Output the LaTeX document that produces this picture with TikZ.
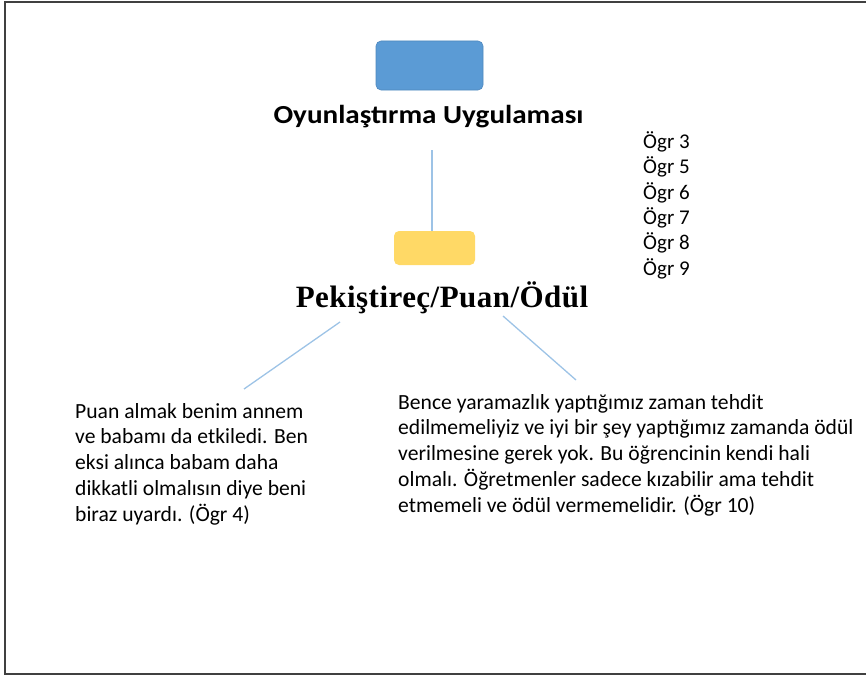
\documentclass[tikz,border=0pt]{standalone}
\usepackage{fontspec}
\setmainfont{Carlito}
\newfontfamily\headserif[LetterSpace=1.5]{Liberation Serif}
\definecolor{boxblue}{HTML}{5B9BD5}
\definecolor{boxblueedge}{HTML}{4F88BE}
\definecolor{boxyellow}{HTML}{FFD966}
\definecolor{linkblue}{HTML}{9DC3E6}
\definecolor{framegray}{HTML}{404040}
\tikzset{
  x=1pt, y=-1pt,
  shapebox/.style={rounded corners=5pt, inner sep=0pt, minimum width=#1},
  link/.style={draw=linkblue, line width=1.3pt},
  body/.style={font=\fontsize{21.6}{25.7}\selectfont, align=left, anchor=north west, inner sep=0pt, text=black},
}
\begin{document}
\begin{tikzpicture}
\useasboundingbox (0,0) rectangle (866,677);
% outer frame (open on the right)
\draw[framegray, line width=2pt] (870,2) -- (5,2) -- (5,674) -- (870,674);

% top level: the game application
\node[shapebox=107pt, minimum height=49pt, fill=boxblue, draw=boxblueedge, line width=0.6pt] (game) at (429.5,65.5) {};
\node[inner sep=0pt, font=\bfseries\fontsize{26}{30}\selectfont] (gametitle) at (428.5,117)
  {\scalebox{1.12}[1]{Oyunlaştırma Uygulaması}};

% second level: reinforcer / points / reward
\node[shapebox=81pt, minimum height=34pt, fill=boxyellow] (reward) at (434.5,248) {};
\node[inner sep=0pt, font=\headserif\bfseries\fontsize{31}{34}\selectfont] (rewardtitle) at (442,298)
  {Pekiştireç/Puan/Ödül};

\coordinate (v1) at (432,150);
\draw[link] (v1) -- (reward.north -| v1);

% students sharing this view
\node[body, font=\fontsize{21}{25.3}\selectfont] (students) at (643,131.5)
  {Ögr 3\\Ögr 5\\Ögr 6\\Ögr 7\\Ögr 8\\Ögr 9};

% quotations
\node[body] (quoteA) at (75,403)
  {Puan almak benim annem\\ve babamı da etkiledi. Ben\\eksi alınca babam daha\\dikkatli olmalısın diye beni\\biraz uyardı. (Ögr 4)};
\node[body] (quoteB) at (398,394)
  {Bence yaramazlık yaptığımız zaman tehdit\\edilmemeliyiz ve iyi bir şey yaptığımız zamanda ödül\\verilmesine gerek yok. Bu öğrencinin kendi hali\\olmalı. Öğretmenler sadece kızabilir ama tehdit\\etmemeli ve ödül vermemelidir. (Ögr 10)};

\coordinate (lA1) at (340,322);
\coordinate (lA2) at (244,389);
\coordinate (lB1) at (503,316);
\coordinate (lB2) at (576,380);
\draw[link] (lA1) -- (lA2);
\draw[link] (lB1) -- (lB2);
\end{tikzpicture}
\end{document}
